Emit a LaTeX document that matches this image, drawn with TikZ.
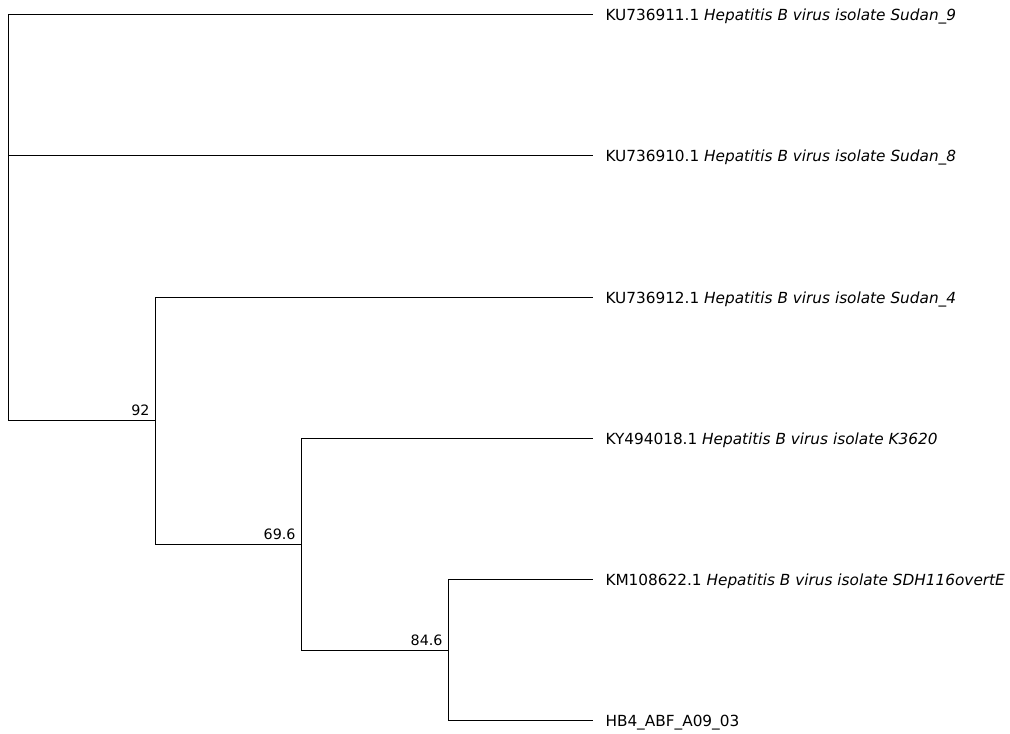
\documentclass[tikz,border=0pt]{standalone}
\usepackage{fontspec}
\setmainfont{DejaVu Sans}
\begin{document}
\begin{tikzpicture}[x=1pt, y=-1pt, line width=1pt,
		leaf/.style={anchor=base west, inner sep=0pt, xshift=12pt, yshift=-6pt, font=\fontsize{15.3}{18}\selectfont},
		conf/.style={anchor=south east, inner sep=0pt, xshift=-5pt, yshift=4pt, font=\fontsize{14.3}{17}\selectfont}]
	\useasboundingbox (0,0) rectangle (1010,734);
	
	% Clades
	\coordinate (root) at (8,420);
	\coordinate (c92) at (155,420);
	\coordinate (c696) at (301,544);
	\coordinate (c846) at (448,650);
	
	% Tips
	\foreach \n/\y in {1/14, 2/155, 3/297, 4/438, 5/579, 6/720}
		\coordinate (tip\n) at (593,\y);
	
	% Branches
	\draw (root) |- (tip1);
	\draw (root) |- (tip2);
	\draw (root) -- (c92);
	\draw (c92) |- (tip3);
	\draw (c92) |- (c696);
	\draw (c696) |- (tip4);
	\draw (c696) |- (c846);
	\draw (c846) |- (tip5);
	\draw (c846) |- (tip6);
	
	% Tip labels
	\node[leaf] (lab1) at (tip1) {KU736911.1 \textit{Hepatitis B virus isolate Sudan\_9}};
	\node[leaf] (lab2) at (tip2) {KU736910.1 \textit{Hepatitis B virus isolate Sudan\_8}};
	\node[leaf] (lab3) at (tip3) {KU736912.1 \textit{Hepatitis B virus isolate Sudan\_4}};
	\node[leaf] (lab4) at (tip4) {KY494018.1 \textit{Hepatitis B virus isolate K3620}};
	\node[leaf] (lab5) at (tip5) {KM108622.1 \textit{Hepatitis B virus isolate SDH116overtE}};
	\node[leaf] (lab6) at (tip6) {HB4\_ABF\_A09\_03};
	
	% Confidences
	\node[conf] (conf92) at (c92) {92};
	\node[conf] (conf696) at (c696) {69.6};
	\node[conf] (conf846) at (c846) {84.6};
\end{tikzpicture}
\end{document}
